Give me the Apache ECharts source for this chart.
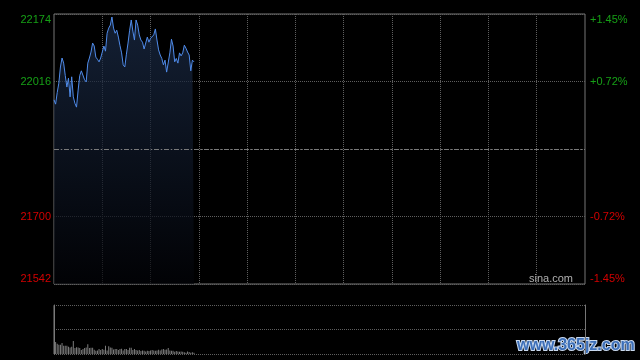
<!DOCTYPE html>
<html>
<head>
<meta charset="utf-8">
<script src="https://cdn.jsdelivr.net/npm/echarts@6/dist/echarts.min.js"></script>
<style>
html,body{margin:0;padding:0;background:#000;}
#c{width:640px;height:360px;}
</style>
</head>
<body>
<div id="c"></div>
<script>
// ---- data ----
const prevClose = 21858;
const priceMin = 21542;
const priceMax = 22174;
const priceStep = 158;

// trading minutes 09:30-12:00, 13:01-16:00
const times = [];
function pad(n){return (n<10?'0':'')+n;}
for (let m = 9*60+30; m <= 12*60; m++) times.push(pad(Math.floor(m/60))+':'+pad(m%60));
for (let m = 13*60+1; m <= 16*60; m++) times.push(pad(Math.floor(m/60))+':'+pad(m%60));

const prices = [
  21973, 21963, 21990, 22012, 22050, 22071, 22059, 22030, 22003, 22024,
  21980, 22027, 21980, 21965, 21956, 21996, 22030, 22041, 22039, 22020,
  22015, 22059, 22071, 22085, 22106, 22099, 22073, 22068, 22062, 22071,
  22085, 22099, 22087, 22129, 22141, 22148, 22167, 22141, 22129, 22136,
  22120, 22100, 22083, 22055, 22050, 22080, 22106, 22136, 22160, 22134,
  22113, 22160, 22148, 22125, 22113, 22108, 22092, 22092, 22120, 22108,
  22117, 22120, 22125, 22139, 22113, 22090, 22078, 22070, 22055, 22066,
  22038, 22041, 22083, 22115, 22099, 22062, 22070, 22059, 22083, 22076,
  22083, 22101, 22094, 22085, 22078, 22041, 22066, 22062
];

const volumes = [
  149, 37, 31, 28, 28, 34, 25, 25, 25, 22,
  20, 22, 40, 18, 21, 20, 18, 12, 15, 18,
  20, 30, 18, 19, 19, 13, 10, 11, 15, 12,
  15, 13, 25, 11, 24, 20, 19, 14, 15, 15,
  12, 15, 16, 11, 15, 15, 12, 19, 19, 12,
  15, 12, 11, 12, 9, 11, 10, 8, 10, 9,
  11, 12, 11, 10, 11, 13, 11, 14, 15, 13,
  14, 18, 11, 10, 10, 7, 9, 8, 7, 8,
  7, 5, 4, 8, 6, 4, 5, 4
];
const volumeMax = 150;

// ---- chart ----
const GREEN = '#16a016';
const RED = '#d40000';
const GRIDC = '#5e5e5e';
const BORDER = '#777';

const chart = echarts.init(document.getElementById('c'), null, {renderer:'canvas'});
const dotted = {color: GRIDC, type: [1,1], width: 1};

function pct(v){
  const p = (v - prevClose) / prevClose * 100;
  if (Math.abs(p) < 1e-9) return '';
  return (p > 0 ? '+' : '-') + Math.abs(p).toFixed(2) + '%';
}
function labColor(v){ return v > prevClose ? GREEN : (v < prevClose ? RED : '#888'); }

chart.setOption({
  backgroundColor: '#000',
  animation: false,
  grid: [
    {left: 54, right: 55, top: 14, height: 270, show: true, borderColor: BORDER, borderWidth: 1, backgroundColor: 'transparent'},
    {left: 54, right: 55, top: 305, height: 49, show: false}
  ],
  xAxis: [
    {
      gridIndex: 0, type: 'category', data: times, boundaryGap: false,
      axisLine: {show: false}, axisTick: {show: false}, axisLabel: {show: false},
      splitLine: {show: true, interval: function(i){ return i % 30 === 0 && i > 0 && i < times.length-1; }, lineStyle: dotted}
    },
    {
      gridIndex: 1, type: 'category', data: times, boundaryGap: false,
      axisLine: {show: false}, axisTick: {show: false}, axisLabel: {show: false}, splitLine: {show: false}
    }
  ],
  yAxis: [
    {
      gridIndex: 0, type: 'value', position: 'left', min: priceMin, max: priceMax, interval: priceStep,
      axisLine: {show: false}, axisTick: {show: false},
      splitLine: {show: true, lineStyle: dotted},
      axisLabel: {
        fontSize: 11, fontFamily: 'Liberation Sans, Arial, sans-serif', margin: 3,
        color: labColor,
        formatter: function(v){ return v === prevClose ? '' : String(v); },
        verticalAlignMinLabel: 'bottom', verticalAlignMaxLabel: 'top'
      }
    },
    {
      gridIndex: 0, type: 'value', position: 'right', min: priceMin, max: priceMax, interval: priceStep,
      axisLine: {show: false}, axisTick: {show: false}, splitLine: {show: false},
      axisLabel: {
        fontSize: 11, fontFamily: 'Liberation Sans, Arial, sans-serif', margin: 5,
        color: labColor, formatter: pct,
        verticalAlignMinLabel: 'bottom', verticalAlignMaxLabel: 'top'
      }
    },
    {
      gridIndex: 1, type: 'value', position: 'left', min: 0, max: volumeMax, interval: volumeMax/2,
      axisLine: {show: true, lineStyle: {color: BORDER, width: 1}}, axisTick: {show: false}, axisLabel: {show: false},
      splitLine: {show: true, lineStyle: dotted}
    },
    {
      gridIndex: 1, type: 'value', position: 'right', min: 0, max: volumeMax, interval: volumeMax/2,
      axisLine: {show: true, lineStyle: {color: BORDER, width: 1}}, axisTick: {show: false}, axisLabel: {show: false},
      splitLine: {show: false}
    }
  ],
  series: [
    {
      type: 'line', xAxisIndex: 0, yAxisIndex: 0, data: prices,
      symbol: 'none', smooth: false,
      lineStyle: {color: '#4f8bea', width: 1},
      areaStyle: {
        color: new echarts.graphic.LinearGradient(0, 0, 0, 1, [
          {offset: 0, color: '#1c2d4a'},
          {offset: 1, color: '#020307'}
        ])
      },
      markLine: {
        silent: true, symbol: 'none', label: {show: false},
        lineStyle: {color: '#7a7a7a', type: [5,2,1,2], width: 1},
        data: [{yAxis: prevClose}]
      },
      z: 3
    },
    {
      type: 'bar', xAxisIndex: 1, yAxisIndex: 2, data: volumes,
      barWidth: 1, itemStyle: {color: '#7c7c7c'}
    }
  ],
  graphic: [
    {
      type: 'text', right: 67, top: 273,
      style: {text: 'sina.com', fill: '#b0b0b0', font: '11px Liberation Sans, Arial, sans-serif'}
    },
    {
      type: 'text', left: 516, top: 337,
      style: {
        text: 'www.365jz.com', fill: '#3d6fb8',
        font: 'bold 16px Liberation Sans, Arial, sans-serif',
        stroke: '#c9d9ef', lineWidth: 2
      }
    }
  ]
});
</script>
</body>
</html>
